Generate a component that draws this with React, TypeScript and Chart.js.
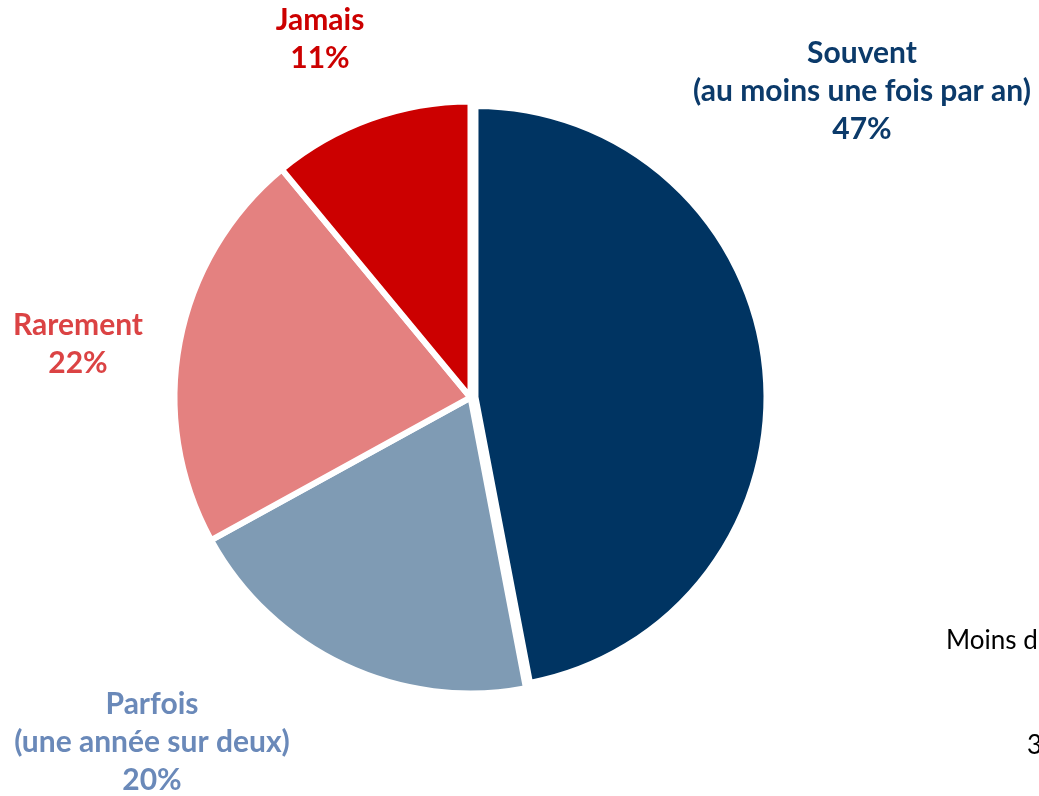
import React, { useEffect, useRef } from "react";
import { Chart, registerables } from "chart.js";

Chart.register(...registerables);

const categories = ["Souvent", "Parfois", "Rarement", "Jamais"];
const subtitles = ["(au moins une fois par an)", "(une année sur deux)", "", ""];
const values = [47, 20, 22, 11];
const sliceColors = ["#003462", "#7F9BB4", "#E48180", "#CC0000"];
const labelColors = ["#0B3A6A", "#6A89B9", "#DB4344", "#CC0000"];
const strayTexts = ["Moins d", "3"];

export default function App() {
  const ref = useRef<HTMLCanvasElement>(null);

  useEffect(() => {
    document.body.style.margin = "0";
    const canvas = ref.current;
    if (!canvas) return;

    const labelPos = [
      { x: 862, y: 53 },
      { x: 152, y: 704 },
      { x: 78, y: 325 },
      { x: 320, y: 20 },
    ];
    const strayPos = [
      { x: 946, y: 641 },
      { x: 1027, y: 746 },
    ];
    const explodeIndex = 0;
    const explodeDist = 5;

    const explodePlugin = {
      id: "explodeSlice",
      afterDatasetUpdate(chart: any) {
        const arc: any = chart.getDatasetMeta(0).data[explodeIndex];
        if (!arc) return;
        const mid = (arc.startAngle + arc.endAngle) / 2;
        arc.x += explodeDist * Math.cos(mid);
        arc.y += explodeDist * Math.sin(mid);
        arc.outerRadius -= explodeDist;
      },
    };

    const labelPlugin = {
      id: "outsideLabels",
      afterDraw(chart: any) {
        const ctx = chart.ctx;
        ctx.save();
        ctx.textAlign = "center";
        ctx.textBaseline = "middle";
        ctx.font = "bold 30px Lato";
        const lh = 38;
        categories.forEach((cat, i) => {
          const lines = [cat];
          if (subtitles[i]) lines.push(subtitles[i]);
          lines.push(values[i] + "%");
          ctx.fillStyle = labelColors[i];
          lines.forEach((ln, j) => {
            ctx.fillText(ln, labelPos[i].x, labelPos[i].y + j * lh);
          });
        });
        ctx.textAlign = "left";
        ctx.font = "26px Lato";
        ctx.fillStyle = "#000000";
        strayTexts.forEach((t, i) => {
          ctx.fillText(t, strayPos[i].x, strayPos[i].y);
        });
        ctx.restore();
      },
    };

    const chart = new Chart(canvas, {
      type: "pie",
      data: {
        labels: categories,
        datasets: [
          {
            data: values,
            backgroundColor: sliceColors,
            borderColor: "#ffffff",
            borderWidth: 6,
          },
        ],
      },
      options: {
        responsive: false,
        animation: false,
        radius: 296,
        layout: { padding: { left: 0, right: 98, top: 0, bottom: 1 } },
        plugins: {
          legend: { display: false },
          tooltip: { enabled: false },
        },
      },
      plugins: [explodePlugin, labelPlugin],
    });

    return () => chart.destroy();
  }, []);

  return (
    <div style={{ position: "fixed", left: 0, top: 0, width: 1039, height: 796, background: "#ffffff" }}>
      <canvas ref={ref} width={1039} height={796} style={{ display: "block" }} />
    </div>
  );
}
